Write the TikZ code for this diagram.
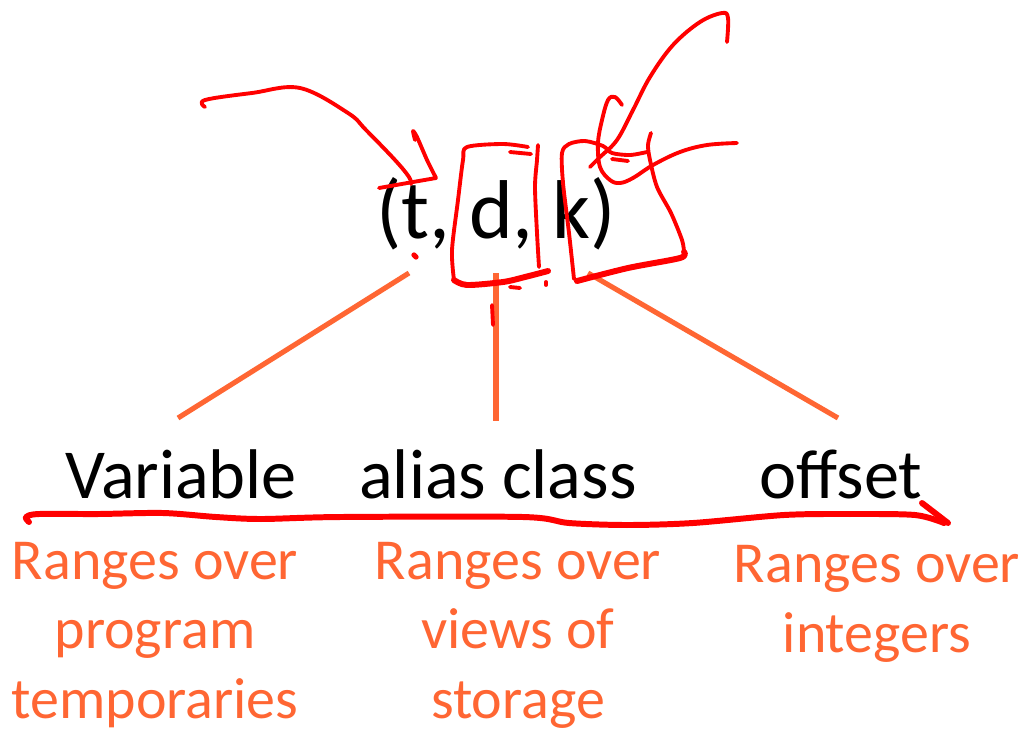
\documentclass[tikz,border=0pt]{standalone}
\usepackage{fontspec}
\setmainfont{Carlito}
\definecolor{slide_orange}{HTML}{FF6633}
\definecolor{ink_red}{HTML}{FF0000}

\begin{document}
\begin{tikzpicture}[
	    x=0.02cm, y=-0.02cm,
	    tupletext/.style={anchor=base, inner sep=0pt, font=\fontsize{47.5}{57}\selectfont},
	    fieldtext/.style={anchor=base, inner sep=0pt, font=\fontsize{40}{48}\selectfont},
	    rangetext/.style={anchor=base, inner sep=0pt, align=center, text=slide_orange, font=\fontsize{33}{39.3}\selectfont},
	    fieldline/.style={draw=slide_orange, line width=2.9pt},
	    ink/.style={draw=ink_red, line width=2.2pt, line cap=round, line join=round},
	    thickink/.style={ink, line width=3.4pt},
	]
	    \useasboundingbox[fill=white] (0,0) rectangle (1021,728);

		\node[tupletext] (tuple) at (496,238) {(t, d, k)};

        \node[fieldtext] (varname) at (181,498) {Variable};
        \node[fieldtext] (aliasname) at (498,498) {alias class};
        \node[fieldtext] (offsetname) at (841,498) {offset};

        % anchor=base sits on the last line
        \node[rangetext] (varrange) at (155,718) {Ranges over\\program\\temporaries};
        \node[rangetext] (aliasrange) at (518,718) {Ranges over\\views of\\storage};
        \node[rangetext] (offsetrange) at (877,652) {Ranges over\\integers};

        \coordinate (tfoot) at (409,273);
        \coordinate (dfoot) at (496,273);
        \coordinate (kfoot) at (588,273);
        \coordinate (varhead) at (178,418);
        \coordinate (aliashead) at (496,421);
        \coordinate (offsethead) at (838,418);

        \draw [fieldline] (tfoot) -- (varhead);
        \draw [fieldline] (dfoot) -- (aliashead);
        \draw [fieldline] (kfoot) -- (offsethead);

        % pen strokes on top
        \draw [ink] plot[smooth, tension=0.6] coordinates {(205,107) (205,100) (252,93) (300,88) (348,113) (366,130) (395,160) (409,177) (411,184)};
        \draw [ink] plot[smooth, tension=0.4] coordinates {(415,140) (413,131) (417,137) (427,160) (436,178)} -- (413,182) -- (379,188);
        \draw [ink, line width=3pt] (414,255) -- (416,257);

        \draw [ink] plot[smooth, tension=0.5] coordinates {(538,145) (537,160) (535,187) (537,233) (539,267)};
        \draw [thickink] plot[smooth, tension=0.5] coordinates {(548,271) (525,277) (503,282) (467,285) (454,280)};
        \draw [ink] plot[smooth, tension=0.5] coordinates {(454,280) (452,250) (458,200) (463,160) (467,147) (503,144) (528,147)};
        \draw [ink] (510,152) -- (531,154);
        \draw [ink] (510,287) -- (520,288);
        \draw [ink] (546,282) -- (546,285);
        \draw [ink] (492,305) -- (493,325);

        \draw [ink] plot[smooth, tension=0.5] coordinates {(574,279) (569,233) (563,183) (562,153) (569,144) (585,141) (603,146) (612,153) (630,155) (647,152)};
        \draw [thickink] plot[smooth, tension=0.5] coordinates {(577,281) (628,268) (680,258) (684,252)};
        \draw [ink] plot[smooth, tension=0.5] coordinates {(684,252) (682,240) (671,213) (657,187) (650,160) (648,145) (651,133)};

        \draw [ink] plot[smooth, tension=0.6] coordinates {(727,42) (728,18) (722,13) (700,22) (673,45) (650,77) (633,110) (617,140) (600,157) (590,167)};
        \draw [ink] plot[smooth, tension=0.6] coordinates {(622,105) (615,97) (608,100) (602,120) (598,143) (600,167) (610,180) (620,183) (633,178) (653,165) (680,152) (707,145) (737,143)};
        \draw [ink] (612,159) -- (628,161);

        \draw [thickink] plot[smooth, tension=0.5] coordinates {(29,522) (26,517) (39,514) (98,514) (163,513) (216,517) (261,519) (340,517) (523,517) (569,523) (627,525) (693,523) (784,515) (850,514) (915,515) (944,523)};
        \draw [thickink] (922,503) -- (948,523);
	\end{tikzpicture}
\end{document}
